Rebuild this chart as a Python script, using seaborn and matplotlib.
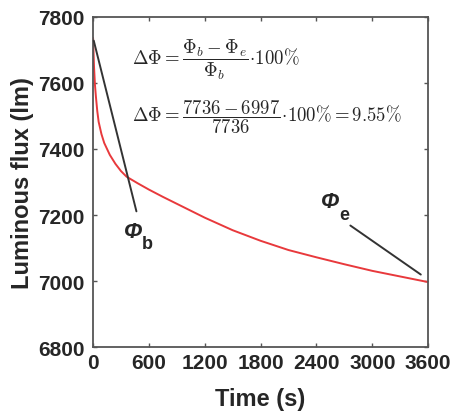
import matplotlib
matplotlib.use("Agg")
import matplotlib.pyplot as plt
import seaborn as sns
import pandas as pd

time_s = [0, 10, 20, 30, 45, 60, 90, 120, 180, 240, 300, 360, 480, 600, 750, 900,
          1200, 1500, 1800, 2100, 2400, 2700, 3000, 3300, 3600]
flux_lm = [7736, 7650, 7595, 7560, 7515, 7482, 7445, 7418, 7382, 7355, 7333,
           7316, 7296, 7277, 7255, 7234, 7192, 7154, 7122, 7094, 7072, 7051, 7031,
           7014, 6997]
x_ticks = [0, 600, 1200, 1800, 2400, 3000, 3600]
y_ticks = [6800, 7000, 7200, 7400, 7600, 7800]

sns.set_style("ticks")
plt.rcParams['font.family'] = ['Liberation Sans', 'DejaVu Sans']
plt.rcParams['mathtext.fontset'] = 'cm'

df = pd.DataFrame({"t": time_s, "flux": flux_lm})

fig = plt.figure(figsize=(4.54, 4.14), dpi=100)
ax = fig.add_axes([0.205, 0.159, 0.738, 0.798])
sns.lineplot(data=df, x="t", y="flux", ax=ax, color="#e8393c", linewidth=1.4)

ax.set_xlim(0, 3600)
ax.set_ylim(6800, 7800)
ax.set_xticks(x_ticks)
ax.set_yticks(y_ticks)
ax.tick_params(direction="in", length=3, width=1, top=True, right=True,
               labelsize=15, color="#555555")
ax.tick_params(axis="y", pad=6)
ax.tick_params(axis="x", pad=4)
for lab in ax.get_xticklabels() + ax.get_yticklabels():
    lab.set_fontweight("bold")
for s in ax.spines.values():
    s.set_visible(True)
    s.set_color("#555555")
    s.set_linewidth(1.3)

ax.set_xlabel("Time (s)", fontsize=17, fontweight="bold", labelpad=11)
ax.set_ylabel("Luminous flux (lm)", fontsize=17, fontweight="bold", labelpad=3)

# annotations
ax.annotate("", xy=(0, 7736), xytext=(473, 7203),
            arrowprops=dict(arrowstyle="-", color="#333333", lw=1.4))
ax.text(430, 7150, "Φ", fontsize=16, fontweight="bold", style="italic", ha="center", va="center")
ax.text(580, 7115, "b", fontsize=13, fontweight="bold", ha="center", va="center")
ax.annotate("", xy=(3546, 7015), xytext=(2740, 7173),
            arrowprops=dict(arrowstyle="-", color="#333333", lw=1.4))
ax.text(2547, 7242, "Φ", fontsize=16, fontweight="bold", style="italic", ha="center", va="center")
ax.text(2700, 7203, "e", fontsize=13, fontweight="bold", ha="center", va="center")

ax.text(420, 7672, r"$\mathbf{\Delta\Phi} = \dfrac{\Phi_b - \Phi_e}{\Phi_b}\!\cdot\!\mathbf{100\%}$",
        fontsize=13.5, ha="left", va="center")
ax.text(420, 7500, r"$\mathbf{\Delta\Phi} = \dfrac{\mathbf{7736 - 6997}}{\mathbf{7736}}\!\cdot\!\mathbf{100\%} = \mathbf{9.55\%}$",
        fontsize=13.5, ha="left", va="center")

fig.savefig("out.png", dpi=100)
